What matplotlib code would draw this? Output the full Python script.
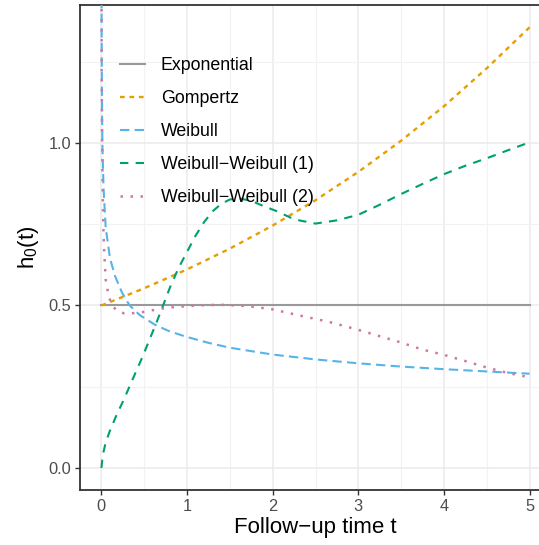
import matplotlib
matplotlib.use("Agg")
from matplotlib import pyplot as plt
from matplotlib.ticker import MultipleLocator, FormatStrFormatter

plt.rcParams.update({
    "font.family": ["Liberation Sans", "DejaVu Sans"],
    "mathtext.fontset": "custom",
    "mathtext.rm": "Liberation Sans",
    "mathtext.it": "Liberation Sans:italic",
})

# values
exp_t = [0.0, 5.0]
exp_h = [0.5, 0.5]

gomp_t = [0.0, 0.5, 1.0, 1.5, 2.0, 2.5, 3.0, 3.5, 4.0, 4.5, 5.0]
gomp_h = [0.5, 0.553, 0.611, 0.675, 0.746, 0.824, 0.911, 1.007, 1.113, 1.23, 1.356]

weib_t = [0.0005, 0.001, 0.003, 0.007, 0.012, 0.025, 0.05, 0.1, 0.16, 0.24, 0.33,
          0.45, 0.63, 0.8, 1.0, 1.25, 1.5, 2.0, 2.5, 3.0, 3.5, 4.0, 4.5, 5.0]
weib_h = [1.90, 1.65, 1.32, 1.10, 0.99, 0.86, 0.74, 0.645, 0.59, 0.54, 0.50,
          0.47, 0.44, 0.42, 0.403, 0.385, 0.37, 0.349, 0.334, 0.322, 0.312, 0.304, 0.297, 0.29]

ww1_t = [0.0, 0.01, 0.025, 0.05, 0.1, 0.18, 0.26, 0.335, 0.41, 0.48, 0.56, 0.65, 0.72, 0.8, 0.9,
         1.0, 1.1, 1.2, 1.3, 1.4, 1.5, 1.6, 1.75, 1.9, 2.05, 2.25, 2.5, 2.75,
         3.0, 3.25, 3.5, 3.75, 4.0, 4.25, 4.5, 4.75, 5.0]
ww1_h = [0.0, 0.025, 0.05, 0.078, 0.115, 0.165, 0.209, 0.255, 0.30, 0.342, 0.394, 0.452, 0.50, 0.555, 0.615,
         0.665, 0.715, 0.757, 0.79, 0.813, 0.826, 0.83, 0.822, 0.805, 0.79, 0.765, 0.752, 0.762,
         0.779, 0.81, 0.843, 0.874, 0.904, 0.93, 0.953, 0.978, 1.002]

ww2_t = [0.0005, 0.001, 0.003, 0.007, 0.012, 0.015, 0.022, 0.03, 0.04, 0.05, 0.07, 0.11,
         0.17, 0.26, 0.35, 0.45, 0.55, 0.65, 0.8, 1.0, 1.2, 1.4, 1.6, 1.8, 2.0, 2.3,
         2.65, 3.0, 3.5, 3.75, 4.0, 4.25, 4.5, 4.75, 5.0]
ww2_h = [1.9, 1.6, 1.25, 1.04, 0.92, 0.85, 0.75, 0.68, 0.63, 0.58, 0.55, 0.507,
         0.486, 0.476, 0.476, 0.478, 0.483, 0.488, 0.494, 0.498, 0.501, 0.502, 0.5, 0.495, 0.488, 0.47,
         0.45, 0.425, 0.386, 0.364, 0.348, 0.329, 0.309, 0.292, 0.279]

labels = ["Exponential", "Gompertz", "Weibull",
          "Weibull\u2212Weibull (1)", "Weibull\u2212Weibull (2)"]
colors = ["#999999", "#E69F00", "#56B4E9", "#009E73", "#CC79A7"]
styles = ["-", (0, (2, 2)), (0, (4.5, 2.5)), (0, (4, 3.5)), (0, (1, 3))]
widths = [1.5, 1.7, 1.5, 1.5, 1.8]

fig = plt.figure(figsize=(5.39, 5.45), dpi=100)
ax = fig.add_axes([80 / 539, 1 - 490 / 545, 471 / 539, 485 / 545])

series = [(exp_t, exp_h), (gomp_t, gomp_h), (weib_t, weib_h), (ww1_t, ww1_h), (ww2_t, ww2_h)]
for (t, h), lab, col, ls, lw in zip(series, labels, colors, styles, widths):
    ax.plot(t, h, color=col, linestyle=ls, linewidth=lw, label=lab, zorder=3)

ax.set_xlim(-0.25, 5.25)
ax.set_ylim(-0.0678, 1.4246)
ax.xaxis.set_major_locator(MultipleLocator(1))
ax.xaxis.set_minor_locator(MultipleLocator(0.5))
ax.yaxis.set_major_locator(MultipleLocator(0.5))
ax.yaxis.set_minor_locator(MultipleLocator(0.25))
ax.yaxis.set_major_formatter(FormatStrFormatter("%.1f"))
ax.grid(True, which="major", color="#EBEBEB", linewidth=1.1, zorder=0)
ax.grid(True, which="minor", color="#F2F2F2", linewidth=0.8, zorder=0)
ax.set_axisbelow(True)
for s in ax.spines.values():
    s.set_color("#333333")
    s.set_linewidth(1.3)
ax.tick_params(which="major", length=3.5, width=1.0, color="#333333",
               labelcolor="#4D4D4D", labelsize=11.8, pad=3)
ax.tick_params(which="minor", length=0)

ax.set_xlabel("Follow\u2212up time t", fontsize=16, labelpad=2)
ax.set_ylabel(r"h$_\mathrm{0}$(t)", fontsize=16, labelpad=5)

ax.legend(loc="upper left", bbox_to_anchor=((120 - 80) / 471, 1 - (57 - 5) / 485),
          frameon=False, fontsize=12.8, handlelength=1.4, handletextpad=0.9,
          labelspacing=0.9, borderpad=0, borderaxespad=0)

fig.savefig("out.png", dpi=100)
